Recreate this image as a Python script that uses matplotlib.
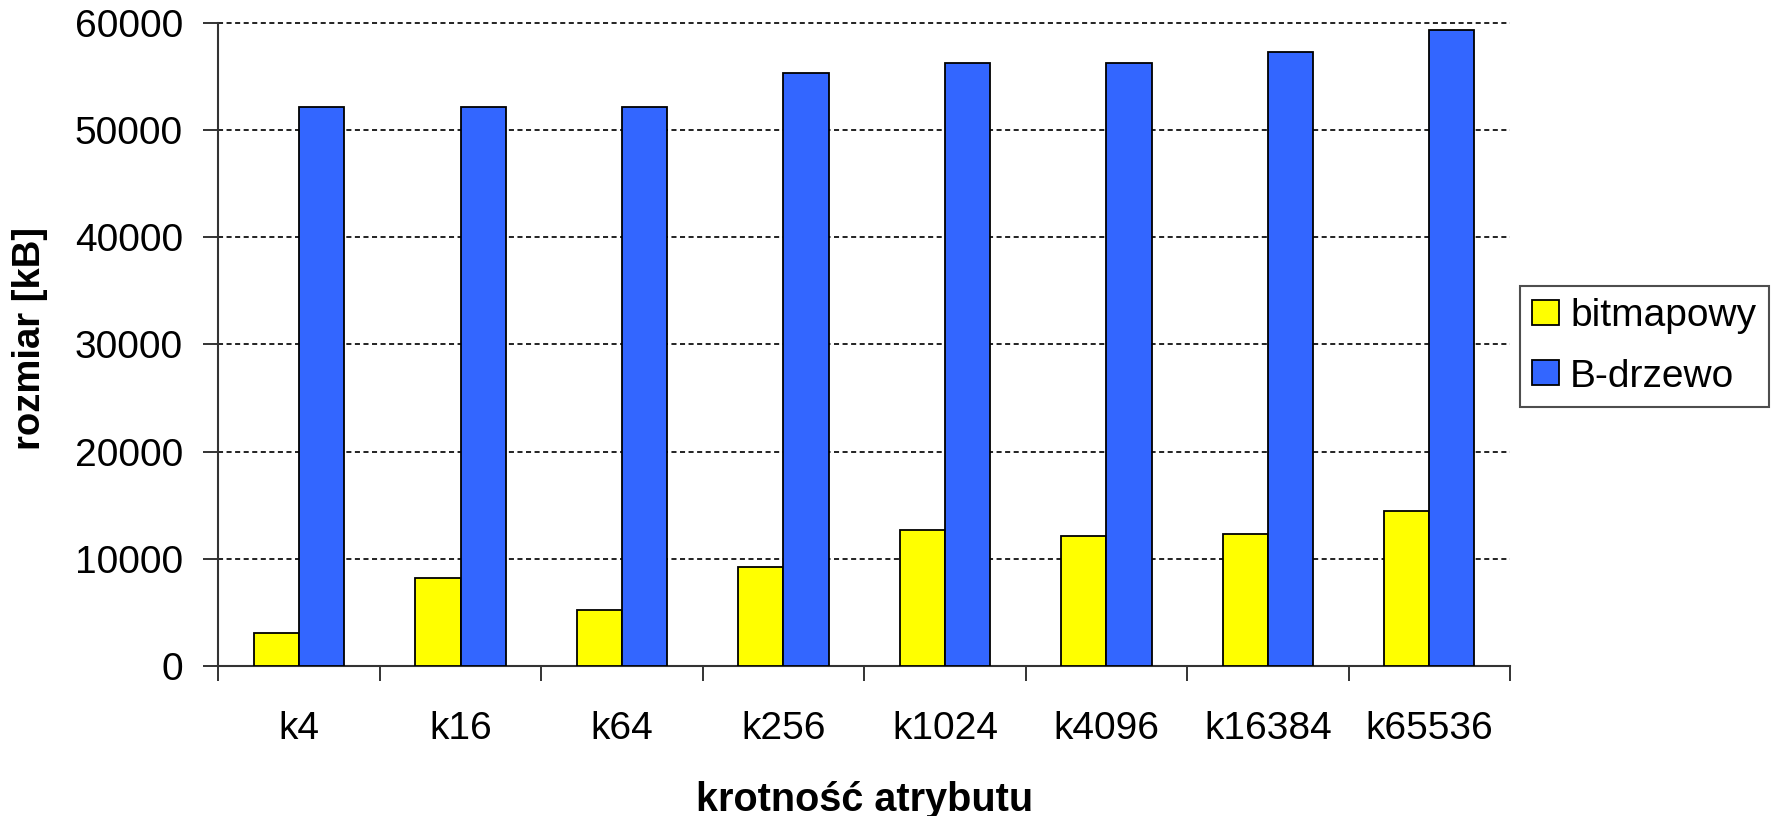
import numpy as np
import matplotlib.pyplot as plt
from matplotlib.ticker import FixedLocator

# rozmiar indeksu w kB dla kolejnych krotnosci atrybutu
kategorie = ['k4', 'k16', 'k64', 'k256', 'k1024', 'k4096', 'k16384', 'k65536']
bitmapowy = [3020, 8180, 5210, 9250, 12700, 12150, 12330, 14450]
b_drzewo = [52150, 52150, 52150, 55370, 56250, 56250, 57320, 59420]
y_ticks = [0, 10000, 20000, 30000, 40000, 50000, 60000]

plt.rcParams['font.family'] = ['Liberation Sans', 'DejaVu Sans']

fig = plt.figure(figsize=(17.75, 8.16), dpi=100)
ax = fig.add_axes([0.1230, 0.1843, 0.8507 - 0.1230, 0.9714 - 0.1843])

x = np.arange(len(kategorie))
w = 0.28
ax.bar(x - w / 2, bitmapowy, w, color='#FFFF00', edgecolor='black', linewidth=1.3,
       label='bitmapowy', zorder=3)
ax.bar(x + w / 2, b_drzewo, w, color='#3366FF', edgecolor='black', linewidth=1.3,
       label='B-drzewo', zorder=3)

ax.set_xlim(-0.5, len(kategorie) - 0.5)
ax.set_ylim(0, 60000)

# podpisy kategorii w srodku, kreski na granicach
ax.set_xticks(x)
ax.set_xticklabels(kategorie)
ax.xaxis.set_minor_locator(FixedLocator(np.arange(len(kategorie) + 1) - 0.5))
ax.tick_params(axis='x', which='major', length=0, pad=33, labelsize=28)
ax.tick_params(axis='x', which='minor', length=10.5, width=1.4, direction='out',
               color='#333333')
ax.set_yticks(y_ticks)
ax.tick_params(axis='y', length=10.5, width=1.4, direction='out', pad=15, labelsize=28,
               color='#333333')

for s in ['top', 'right']:
    ax.spines[s].set_visible(False)
for s in ['left', 'bottom']:
    ax.spines[s].set_linewidth(1.5)
    ax.spines[s].set_color('#333333')

ax.yaxis.grid(True, color='#222222', linewidth=1.4, linestyle=(0, (2.6, 1.8)), zorder=0)
ax.set_axisbelow(True)
for gl in ax.get_ygridlines():
    gl.set_clip_on(False)

ax.set_xlabel('krotność atrybutu', fontsize=28.5, fontweight='bold')
ax.xaxis.set_label_coords(0.5, -0.1797)
ax.set_ylabel('rozmiar [kB]', fontsize=27.5, fontweight='bold')
ax.yaxis.set_label_coords(-0.1316, 0.51)

leg = ax.legend(loc='upper left', bbox_to_anchor=(1520 / 1775, 1 - 286 / 816),
                bbox_transform=fig.transFigure, fontsize=28, frameon=True,
                fancybox=False, borderpad=0.32, handlelength=0.67, handleheight=0.62,
                handletextpad=0.3, labelspacing=0.62, borderaxespad=0)
leg.get_frame().set_edgecolor('#222222')
leg.get_frame().set_linewidth(1.5)

fig.savefig('out.png', dpi=100)
